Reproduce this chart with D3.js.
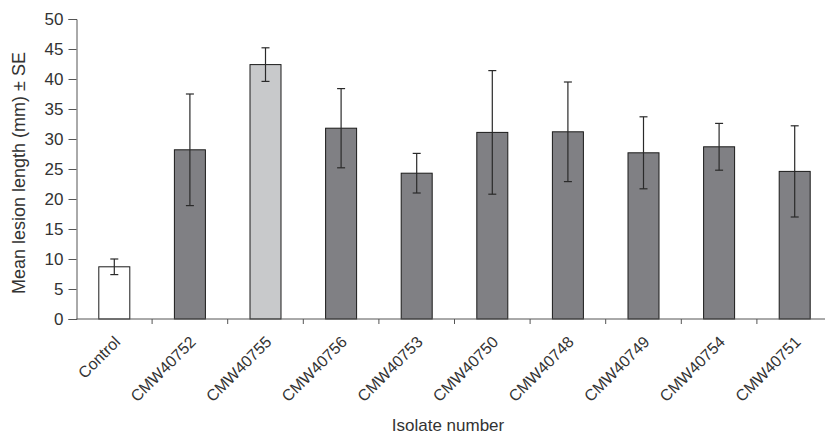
<!DOCTYPE html>
<html>
<head>
<meta charset="utf-8">
<script src="https://cdn.jsdelivr.net/npm/d3@7"></script>
<style>
  body { margin: 0; background: #fff; }
  svg text { font-family: Arial, "Liberation Sans", sans-serif; fill: #333; }
</style>
</head>
<body>
<div id="chart"></div>
<script>
// isolates and their mean lesion length (mm) with standard error
const isolates = ["Control", "CMW40752", "CMW40755", "CMW40756", "CMW40753",
  "CMW40750", "CMW40748", "CMW40749", "CMW40754", "CMW40751"];
const meanLength = [8.7, 28.2, 42.4, 31.8, 24.3, 31.1, 31.2, 27.7, 28.7, 24.6];
const stdErr = [1.3, 9.3, 2.8, 6.6, 3.3, 10.3, 8.3, 6.0, 3.9, 7.6];
const barFill = ["#ffffff", "#808084", "#c8c9cb", "#808084", "#808084",
  "#808084", "#808084", "#808084", "#808084", "#808084"];
const yTicks = [0, 5, 10, 15, 20, 25, 30, 35, 40, 45, 50];

const width = 825, height = 436;
const x0 = 76.5, step = 75.6, y0 = 319, y50 = 19;

const data = isolates.map((name, i) => ({
  name: name, mean: meanLength[i], se: stdErr[i], fill: barFill[i]
}));

const svg = d3.select("#chart")
  .append("svg")
  .attr("width", width)
  .attr("height", height);

const x = d3.scaleBand()
  .domain(isolates)
  .range([x0, x0 + step * isolates.length])
  .padding(0);

const y = d3.scaleLinear()
  .domain([0, 50])
  .range([y0, y50]);

const barW = x.bandwidth() * 0.41;

// bars
svg.append("g")
  .selectAll("rect")
  .data(data)
  .enter()
  .append("rect")
  .attr("x", d => x(d.name) + (x.bandwidth() - barW) / 2)
  .attr("y", d => y(d.mean))
  .attr("width", barW)
  .attr("height", d => y(0) - y(d.mean))
  .attr("fill", d => d.fill)
  .attr("stroke", "#1a1a1a")
  .attr("stroke-width", 1);

// error bars
const err = svg.append("g")
  .attr("stroke", "#2a2a2a")
  .attr("stroke-width", 1.2);
data.forEach(d => {
  const cx = x(d.name) + x.bandwidth() / 2;
  err.append("line")
    .attr("x1", cx).attr("x2", cx)
    .attr("y1", y(d.mean + d.se)).attr("y2", y(d.mean - d.se));
  [d.mean + d.se, d.mean - d.se].forEach(v => {
    err.append("line")
      .attr("x1", cx - 4).attr("x2", cx + 4)
      .attr("y1", y(v)).attr("y2", y(v));
  });
});

// y axis
const yAxis = svg.append("g")
  .attr("transform", "translate(" + x0 + ",0)")
  .call(d3.axisLeft(y).tickValues(yTicks).tickSize(8).tickPadding(5));
yAxis.select(".domain").attr("stroke", "#555");
yAxis.selectAll(".tick line").attr("stroke", "#555");
yAxis.selectAll(".tick text")
  .style("font-size", "17px")
  .attr("fill", "#333");

// x axis: line plus ticks at band boundaries
const xg = svg.append("g");
xg.append("line")
  .attr("x1", x0).attr("x2", width)
  .attr("y1", y0).attr("y2", y0)
  .attr("stroke", "#555");
xg.selectAll(".xt")
  .data(isolates.slice(1))
  .enter()
  .append("line")
  .attr("x1", d => x(d)).attr("x2", d => x(d))
  .attr("y1", y0).attr("y2", y0 + 5)
  .attr("stroke", "#555");

xg.selectAll(".xl")
  .data(isolates)
  .enter()
  .append("text")
  .attr("transform", d => "translate(" + (x(d) + x.bandwidth() / 2 + 7) + "," + (y0 + 24) + ") rotate(-45)")
  .attr("text-anchor", "end")
  .style("font-size", "16px")
  .text(d => d);

// axis titles
svg.append("text")
  .attr("transform", "translate(25,173) rotate(-90)")
  .attr("text-anchor", "middle")
  .style("font-size", "18px")
  .text("Mean lesion length (mm) ± SE");

svg.append("text")
  .attr("x", 448)
  .attr("y", 431)
  .attr("text-anchor", "middle")
  .style("font-size", "17px")
  .text("Isolate number");
</script>
</body>
</html>
